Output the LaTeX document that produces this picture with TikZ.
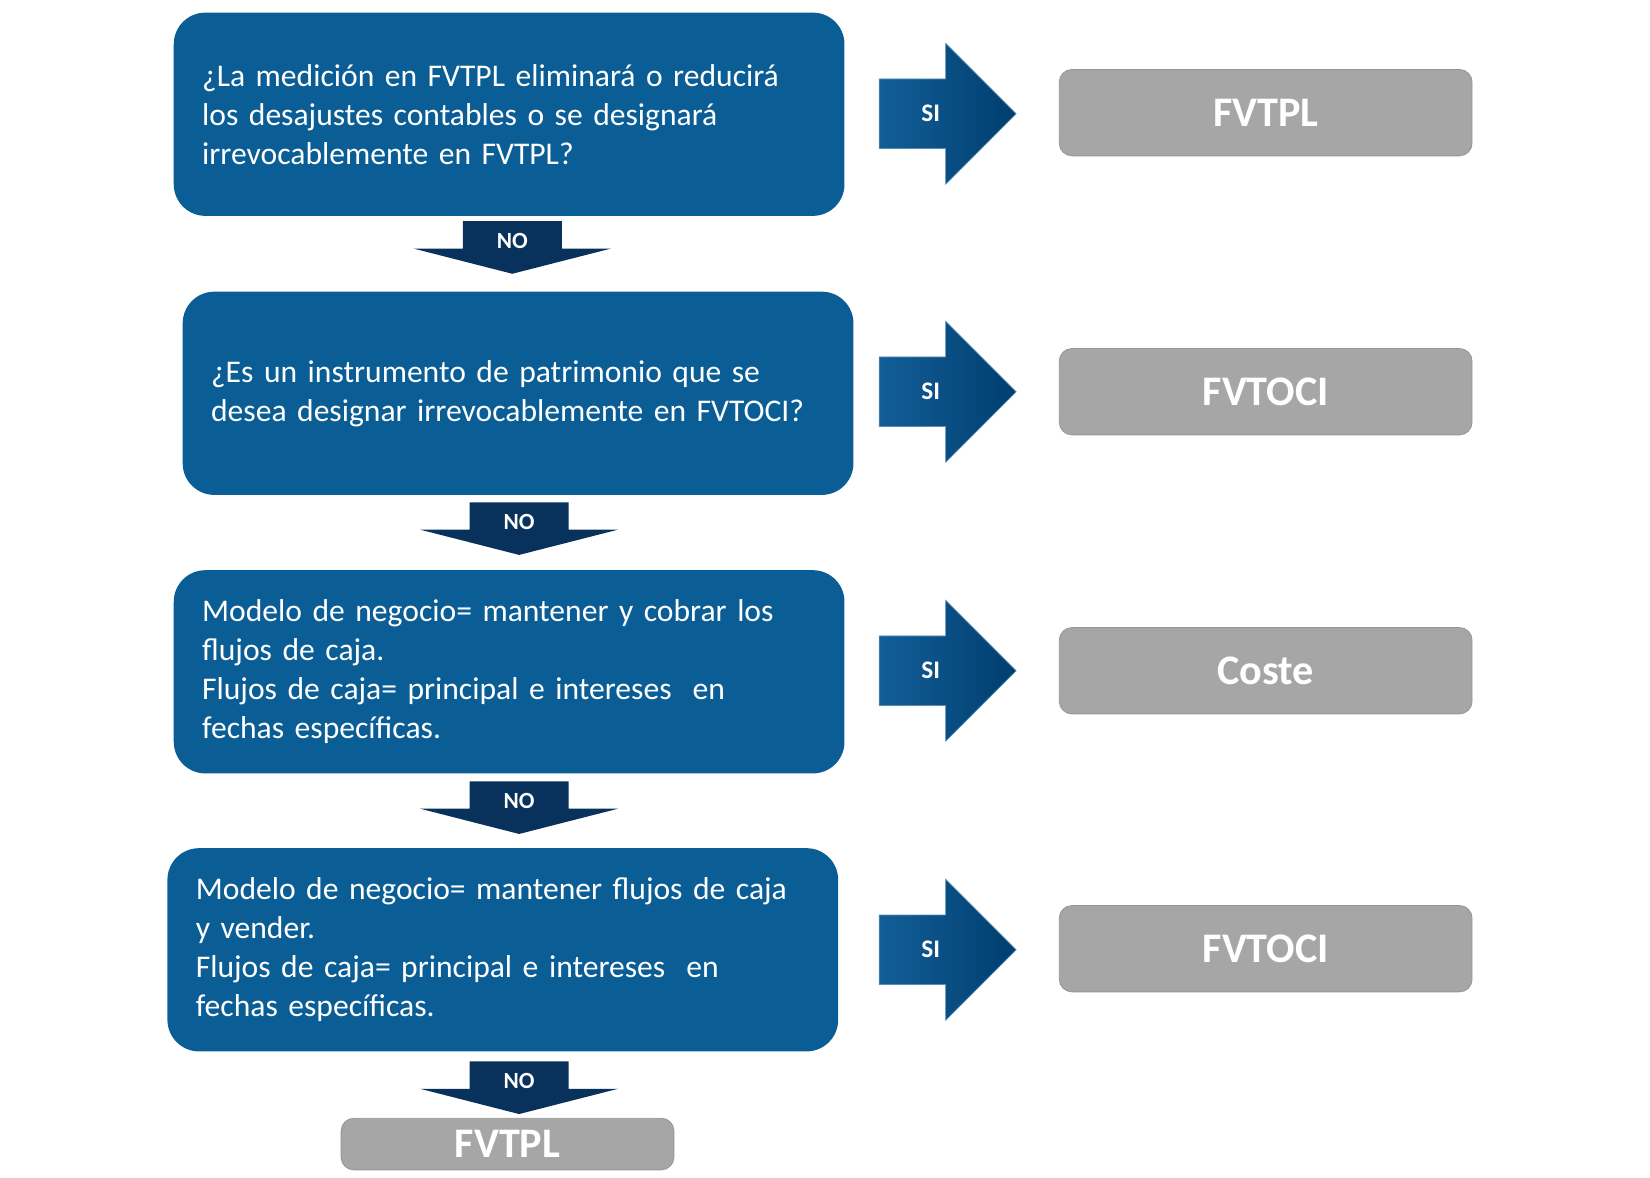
\documentclass[tikz,border=0pt]{standalone}
\usepackage{fontspec}
\setmainfont{Carlito}
\definecolor{boxblue}{RGB}{11,94,149}
\definecolor{noblue}{RGB}{8,50,92}
\definecolor{siA}{RGB}{18,94,152}
\definecolor{siB}{RGB}{0,62,110}
\definecolor{graybox}{RGB}{166,166,166}
\definecolor{grayline}{RGB}{150,150,150}
\tikzset{
  qbox/.style={draw=none, fill=boxblue, rounded corners=15pt, text=white,
    text width=291.5pt, align=left, inner xsep=13.5pt, inner ysep=0pt,
    minimum height=96.5pt, font=\fontsize{15pt}{18.5pt}\selectfont},
  rbox/.style={draw=grayline, line width=0.4pt, fill=graybox, rounded corners=6pt,
    text=white, minimum width=196pt, minimum height=41pt, inner sep=0pt,
    font=\fontsize{20pt}{24pt}\selectfont\bfseries},
  lab/.style={text=white, inner sep=0pt, font=\fontsize{11pt}{13pt}\selectfont\bfseries},
  silab/.style={lab, font=\fontsize{12pt}{14pt}\selectfont\bfseries},
  noshape/.style={fill=noblue},
  sishape/.style={left color=siA, right color=siB, draw=siA!70!white, line width=0.3pt},
}
\begin{document}
\begin{tikzpicture}[x=0.5pt,y=-0.5pt]
\useasboundingbox (0,0) rectangle (1567,1117.8);

% question boxes
\node[qbox] (q1) at (483.5,108.5) {¿La medición en FVTPL eliminará o reducirá\\los desajustes contables o se designará\\irrevocablemente en FVTPL?};
\node[qbox] (q2) at (492,373.5) {¿Es un instrumento de patrimonio que se\\desea designar irrevocablemente en FVTOCI?};
\node[qbox] (q3) at (483.5,638) {Modelo de negocio= mantener y cobrar los\\flujos de caja.\\Flujos de caja= principal e intereses~ en\\fechas específicas.};
\node[qbox] (q4) at (477.5,902) {Modelo de negocio= mantener flujos de caja\\y vender.\\Flujos de caja= principal e intereses~ en\\fechas específicas.};

% result boxes
\node[rbox] (r1) at (1202,107) {FVTPL};
\node[rbox] (r2) at (1202,372) {FVTOCI};
\node[rbox] (r3) at (1202,637) {Coste};
\node[rbox] (r4) at (1202,901) {FVTOCI};
\node[rbox, minimum width=158pt, minimum height=24.5pt] (r5) at (482,1086.5) {FVTPL};

% SI arrows
\foreach \yy/\nm in {108/s1,372/s2,637/s3,902/s4}{
  \begin{scope}[shift={(835,\yy)}]
    \path[sishape] (0,-33) -- (63,-33) -- (63,-67) -- (130,0) -- (63,67) -- (63,33) -- (0,33) -- cycle;
    \node[silab] (\nm) at (49,0) {SI};
  \end{scope}
}

% NO arrows
\foreach \xx/\yy/\nm in {486.5/210/n1,493/477/n2,493/742/n3,493/1008/n4}{
  \begin{scope}[shift={(\xx,\yy)}]
    \fill[noshape] (-47,0) -- (47,0) -- (47,26) -- (94,26) -- (0,50) -- (-94,26) -- (-47,26) -- cycle;
    \node[lab] (\nm) at (0,19) {NO};
  \end{scope}
}
\end{tikzpicture}
\end{document}
